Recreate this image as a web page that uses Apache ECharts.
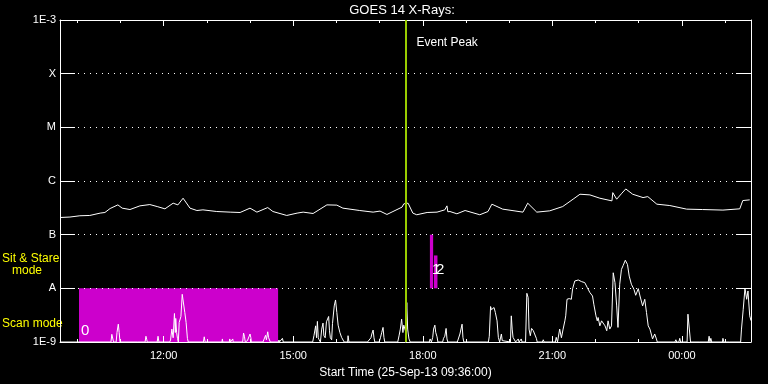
<!DOCTYPE html>
<html><head><meta charset="utf-8">
<script src="https://cdn.jsdelivr.net/npm/echarts@6/dist/echarts.min.js"></script>
<style>html,body{margin:0;padding:0;background:#000;}#c{width:768px;height:384px;}</style>
</head><body><div id="c"></div>
<script>
// x values are hours of 25-Sep-13 (09:36 -> 01:36 next day)
const xStart = 9.6, xEnd = 25.6;
const majorHours = [12, 15, 18, 21, 24];
const minorHours = [10, 11, 13, 14, 16, 17, 19, 20, 22, 23, 25];
const levelLabels = {'-3': '1E-3', '-4': 'X', '-5': 'M', '-6': 'C', '-7': 'B', '-8': 'A', '-9': '1E-9'};

// long channel (1-8 A)
const longTime = [9.60, 9.83, 10.06, 10.29, 10.53, 10.64, 10.76, 10.94, 11.04, 11.22, 11.45, 11.68, 11.85, 12.03, 12.22, 12.33, 12.45, 12.61, 12.77, 12.91, 13.23, 13.54, 13.77, 14.00, 14.16, 14.41, 14.53, 14.85, 15.09, 15.23, 15.46, 15.78, 16.01, 16.15, 16.54, 16.85, 17.01, 17.17, 17.31, 17.52, 17.56, 17.66, 17.77, 17.86, 18.10, 18.33, 18.51, 18.56, 18.58, 18.63, 18.79, 18.98, 19.32, 19.51, 19.60, 19.85, 20.32, 20.43, 20.64, 20.94, 21.24, 21.48, 21.64, 21.87, 22.10, 22.38, 22.40, 22.49, 22.61, 22.70, 22.86, 23.10, 23.21, 23.42, 23.72, 24.11, 24.48, 24.95, 25.34, 25.41, 25.57];
const longFlux = [2.09e-7, 2.13e-7, 2.25e-7, 2.28e-7, 2.52e-7, 2.59e-7, 3.07e-7, 3.59e-7, 3.12e-7, 2.94e-7, 3.44e-7, 3.64e-7, 3.34e-7, 3.03e-7, 3.86e-7, 3.59e-7, 4.78e-7, 3.12e-7, 2.82e-7, 2.90e-7, 2.70e-7, 2.63e-7, 2.59e-7, 3.12e-7, 2.63e-7, 3.20e-7, 2.70e-7, 2.28e-7, 2.52e-7, 2.63e-7, 2.48e-7, 3.59e-7, 3.55e-7, 3.12e-7, 2.82e-7, 2.63e-7, 2.75e-7, 2.38e-7, 2.70e-7, 3.26e-7, 3.75e-7, 3.86e-7, 2.52e-7, 2.35e-7, 2.59e-7, 2.63e-7, 2.90e-7, 3.44e-7, 2.67e-7, 2.70e-7, 2.45e-7, 2.82e-7, 2.35e-7, 2.70e-7, 3.70e-7, 2.99e-7, 2.63e-7, 3.86e-7, 2.63e-7, 2.78e-7, 3.34e-7, 4.58e-7, 5.67e-7, 5.51e-7, 4.78e-7, 4.26e-7, 6.07e-7, 4.58e-7, 5.92e-7, 7.11e-7, 5.67e-7, 4.91e-7, 5.12e-7, 3.70e-7, 3.49e-7, 2.99e-7, 2.94e-7, 2.87e-7, 3.03e-7, 4.32e-7, 4.45e-7];

// short channel (0.5-4 A) [hour, flux]
const shortChannel = [
[9.60,1e-9],
[10.78,1e-9],[10.80,1.39e-9],[10.82,1.28e-9],[10.84,1e-9],
[10.90,1e-9],[10.92,1.51e-9],[10.95,2.15e-9],[10.97,1.51e-9],[10.99,1e-9],
[11.40,1e-9],[11.41,1.06e-9],[11.42,1e-9],
[11.57,1e-9],[11.59,1.28e-9],[11.61,1.1e-9],[11.62,1e-9],
[11.85,1e-9],[11.87,1.28e-9],[11.89,1e-9],
[12.14,1e-9],[12.16,1.09e-9],[12.19,1.74e-9],[12.22,1.2e-9],[12.25,3.40e-9],[12.27,1.5e-9],[12.28,2.75e-9],[12.30,1.51e-9],[12.32,1.17e-9],[12.34,1e-9],[12.36,2.32e-9],[12.40,2.99e-9],[12.43,7.74e-9],[12.45,7.20e-9],[12.49,3.55e-9],[12.52,2.32e-9],[12.55,1.17e-9],[12.57,1e-9],
[12.92,1e-9],[12.94,1.25e-9],[12.96,1e-9],
[13.35,1e-9],[13.36,1.14e-9],[13.37,1e-9],
[13.52,1e-9],[13.53,1.14e-9],[13.55,1e-9],[13.60,1.14e-9],[13.61,1e-9],
[13.83,1e-9],[13.85,1.47e-9],[13.87,1.28e-9],[13.89,1e-9],[13.94,1.06e-9],[13.96,1e-9],[14.00,1.41e-9],[14.02,1.2e-9],[14.03,1e-9],
[14.30,1e-9],[14.32,1.06e-9],[14.33,1e-9],[14.36,1.33e-9],[14.38,1.1e-9],[14.41,1.55e-9],[14.43,1.2e-9],[14.45,1.28e-9],[14.47,1e-9],
[14.66,1e-9],[14.67,1.09e-9],[14.68,1e-9],[14.75,1.17e-9],[14.77,1e-9],
[15.45,1e-9],[15.48,1.31e-9],[15.52,2.0e-9],[15.54,1.2e-9],[15.56,2.42e-9],[15.58,1.2e-9],[15.60,1.1e-9],[15.63,1e-9],[15.66,1.74e-9],[15.69,2.25e-9],[15.71,1.31e-9],[15.74,1.2e-9],[15.77,2.38e-9],[15.82,2.99e-9],[15.84,1.62e-9],[15.86,1.2e-9],[15.89,1.1e-9],[15.91,2.22e-9],[15.95,4.70e-9],[15.98,6.07e-9],[16.01,3.55e-9],[16.04,2.06e-9],[16.08,1.51e-9],[16.12,1.22e-9],[16.15,1.14e-9],[16.18,1e-9],
[16.26,1e-9],[16.27,1.31e-9],[16.29,1e-9],
[16.72,1e-9],[16.73,1.06e-9],[16.76,1e-9],[16.80,1.2e-9],[16.82,1.41e-9],[16.85,1.67e-9],[16.87,1.2e-9],[16.89,1e-9],
[16.99,1e-9],[17.02,1.2e-9],[17.05,1.51e-9],[17.08,1.87e-9],[17.10,1.22e-9],[17.12,1e-9],
[17.42,1e-9],[17.45,1.3e-9],[17.48,1.74e-9],[17.51,2.67e-9],[17.54,1.5e-9],[17.56,2.06e-9],[17.60,1.6e-9],[17.63,5.43e-9],[17.65,1.74e-9],[17.68,1.14e-9],[17.71,1e-9],
[18.15,1e-9],[18.17,1.14e-9],[18.20,1e-9],[18.23,1.22e-9],[18.25,1.74e-9],[18.28,2.06e-9],[18.30,1.51e-9],[18.33,1.25e-9],[18.35,1e-9],
[18.46,1e-9],[18.48,1.17e-9],[18.51,1.28e-9],[18.54,1.79e-9],[18.56,1.14e-9],[18.58,1e-9],
[18.75,1e-9],[18.77,1.06e-9],[18.80,1e-9],[18.86,1.41e-9],[18.91,2.15e-9],[18.93,1.22e-9],[18.95,1e-9],
[19.47,1e-9],[19.48,1.06e-9],[19.52,1e-9],[19.54,1.28e-9],[19.57,4.58e-9],[19.59,4.0e-9],[19.62,4.08e-9],[19.65,4.39e-9],[19.68,3.55e-9],[19.72,2.48e-9],[19.75,1.22e-9],[19.78,1e-9],[19.82,1.41e-9],[19.84,1.06e-9],[19.86,1e-9],
[20.03,1e-9],[20.05,3.07e-9],[20.07,1.74e-9],[20.09,1.22e-9],[20.11,1.14e-9],[20.15,1e-9],[20.21,1.14e-9],[20.23,1e-9],[20.28,1.14e-9],[20.30,1e-9],
[20.38,1e-9],[20.41,8.08e-9],[20.44,6.73e-9],[20.46,1.74e-9],[20.49,1.31e-9],[20.52,1.79e-9],[20.56,1.62e-9],[20.59,1.51e-9],[20.63,1.17e-9],[20.65,1e-9],
[20.77,1e-9],[20.79,1.1e-9],[20.81,1e-9],
[21.07,1e-9],[21.09,1.22e-9],[21.12,1e-9],[21.17,1.74e-9],[21.21,1.2e-9],[21.25,1.74e-9],[21.29,2.48e-9],[21.31,3.07e-9],[21.34,6.25e-9],[21.39,6.44e-9],[21.44,6.25e-9],[21.47,9.87e-9],[21.52,1.37e-8],[21.60,1.43e-8],[21.68,1.33e-8],[21.75,1.28e-8],[21.81,1.03e-8],[21.87,8.32e-9],[21.93,7.2e-9],[21.96,5.06e-9],[22.01,3.07e-9],[22.04,2.48e-9],[22.06,2.86e-9],[22.10,2.0e-9],[22.14,2.48e-9],[22.16,2.67e-9],[22.22,2.0e-9],[22.26,1.62e-9],[22.29,2.48e-9],[22.33,1.74e-9],[22.37,2.0e-9],[22.41,1.95e-8],[22.45,1.28e-8],[22.49,4.7e-9],[22.52,1.87e-9],[22.56,1.19e-8],[22.60,2.25e-8],[22.64,2.67e-8],[22.69,3.34e-8],[22.74,2.78e-8],[22.78,1.69e-8],[22.83,1.19e-8],[22.89,9.58e-9],[22.93,7.42e-9],[22.99,9.87e-9],[23.03,7.2e-9],[23.09,4.7e-9],[23.14,6.25e-9],[23.18,3.55e-9],[23.22,2.0e-9],[23.26,1.74e-9],[23.32,1.14e-9],[23.37,1.41e-9],[23.41,1.14e-9],[23.43,1e-9],
[23.84,1e-9],[23.86,1.1e-9],[23.88,1e-9],[23.93,1e-9],[23.95,1.17e-9],[23.97,1e-9],
[24.12,1e-9],[24.14,3.30e-9],[24.18,3.07e-9],[24.20,1e-9],
[24.40,1e-9],[24.41,1.06e-9],[24.42,1e-9],[24.61,1e-9],[24.63,1.28e-9],[24.65,1e-9],[24.67,1.17e-9],[24.69,1e-9],
[24.94,1e-9],[24.95,1.17e-9],[24.97,1e-9],[25.10,1e-9],[25.11,1.06e-9],[25.12,1e-9],
[25.36,1e-9],[25.38,1.74e-9],[25.42,4.08e-9],[25.46,1e-8],[25.50,6.25e-9],[25.53,8.93e-9],[25.57,3.07e-9],[25.60,2.5e-9]
];

// observing-mode blocks
const modeStart = [10.04, 18.165, 18.26];
const modeEnd = [14.65, 18.24, 18.34];
const modeLow = [1e-9, 1e-8, 1e-8];
const modeHigh = [1e-8, 1e-7, 4.1e-8];
const modeLabel = ['0', '1', '2'];
const modeLabelLevel = [1.6e-9, 2.25e-8, 2.25e-8];

const eventPeak = 17.6;

const W = '#ffffff';
const FONT = 'Liberation Sans';
const chart = echarts.init(document.getElementById('c'), null, {renderer: 'canvas'});
const fmtHour = h => String(Math.round(h) % 24).padStart(2, '0') + ':00';
const baseX = {type: 'value', min: xStart, max: xEnd, splitLine: {show: false}, axisLabel: {show: false}};

const option = {
  backgroundColor: '#000000',
  animation: false,
  textStyle: {fontFamily: FONT},
  grid: {left: 60, right: 17, top: 20, bottom: 41},
  xAxis: [
    Object.assign({}, baseX, {position: 'bottom',
      axisLine: {show: true, lineStyle: {color: W, width: 1}},
      axisTick: {show: true, inside: true, length: 6, customValues: majorHours, lineStyle: {color: W}},
      axisLabel: {show: true, customValues: majorHours, formatter: fmtHour, color: W, fontSize: 11, fontFamily: FONT, margin: 8},
      name: 'Start Time (25-Sep-13 09:36:00)', nameLocation: 'middle', nameGap: 25,
      nameTextStyle: {color: W, fontSize: 12, fontFamily: FONT}}),
    Object.assign({}, baseX, {position: 'bottom', axisLine: {show: false},
      axisTick: {show: true, inside: true, length: 3, customValues: minorHours, lineStyle: {color: W}}}),
    Object.assign({}, baseX, {position: 'top',
      axisLine: {show: true, lineStyle: {color: W, width: 1}},
      axisTick: {show: true, inside: true, length: 6, customValues: majorHours, lineStyle: {color: W}}}),
    Object.assign({}, baseX, {position: 'top', axisLine: {show: false},
      axisTick: {show: true, inside: true, length: 3, customValues: minorHours, lineStyle: {color: W}}})
  ],
  yAxis: [
    {type: 'log', logBase: 10, min: 1e-9, max: 1e-3, splitNumber: 6, position: 'left', z: 1,
      axisLine: {show: true, lineStyle: {color: W, width: 1}},
      axisTick: {show: true, inside: true, length: 15, lineStyle: {color: W}},
      axisLabel: {color: W, fontSize: 11, fontFamily: FONT, margin: 4,
        formatter: v => levelLabels[String(Math.round(Math.log10(v)))] || ''},
      splitLine: {show: true, lineStyle: {color: W, type: [1, 5], width: 1}}},
    {type: 'log', logBase: 10, min: 1e-9, max: 1e-3, splitNumber: 6, position: 'right', z: 1,
      axisLine: {show: true, lineStyle: {color: W, width: 1}},
      axisTick: {show: true, inside: true, length: 15, lineStyle: {color: W}},
      axisLabel: {show: false}, splitLine: {show: false}}
  ],
  series: [
    {type: 'custom', xAxisIndex: 0, yAxisIndex: 0, z: 0,
      data: modeStart.map((s, i) => [s, modeEnd[i], modeLow[i], modeHigh[i], modeLabelLevel[i]]),
      encode: {x: [0, 1], y: [2, 3]},
      renderItem: (params, api) => {
        const p1 = api.coord([api.value(0), api.value(3)]);
        const p2 = api.coord([api.value(1), api.value(2)]);
        const ly = api.coord([api.value(0), api.value(4)])[1];
        return {type: 'group', children: [
          {type: 'rect', shape: {x: p1[0], y: p1[1], width: p2[0] - p1[0], height: p2[1] - p1[1]}, style: {fill: '#cc00cc'}},
          {type: 'text', x: p1[0] + 2, y: ly, z2: 10, style: {text: modeLabel[params.dataIndex], fill: W, font: '15px ' + FONT, verticalAlign: 'middle', align: 'left'}}
        ]};
      }},
    {type: 'line', xAxisIndex: 0, yAxisIndex: 0, z: 3, showSymbol: false, symbol: 'none',
      data: longTime.map((t, i) => [t, longFlux[i]]),
      lineStyle: {color: W, width: 1}},
    {type: 'line', xAxisIndex: 0, yAxisIndex: 0, z: 3, showSymbol: false, symbol: 'none',
      data: shortChannel,
      lineStyle: {color: W, width: 1},
      markLine: {symbol: 'none', silent: true, label: {show: false},
        lineStyle: {color: '#99cc00', width: 2, type: 'solid'},
        data: [{xAxis: eventPeak}]}}
  ]
};
chart.setOption(option);

const peakX = chart.convertToPixel({xAxisIndex: 0}, eventPeak);
chart.setOption({graphic: [
  {type: 'text', x: 402, y: 10, style: {text: 'GOES 14 X-Rays:', fill: W, font: '13px ' + FONT, align: 'center', verticalAlign: 'middle'}},
  {type: 'text', x: peakX + 11, y: 43, style: {text: 'Event Peak', fill: W, font: '12px ' + FONT, verticalAlign: 'middle'}},
  {type: 'text', x: 2, y: 259, style: {text: 'Sit & Stare', fill: '#ffff00', font: '12px ' + FONT, verticalAlign: 'middle'}},
  {type: 'text', x: 12, y: 271, style: {text: 'mode', fill: '#ffff00', font: '12px ' + FONT, verticalAlign: 'middle'}},
  {type: 'text', x: 2, y: 324, style: {text: 'Scan mode', fill: '#ffff00', font: '12px ' + FONT, verticalAlign: 'middle'}}
]});
</script></body></html>
